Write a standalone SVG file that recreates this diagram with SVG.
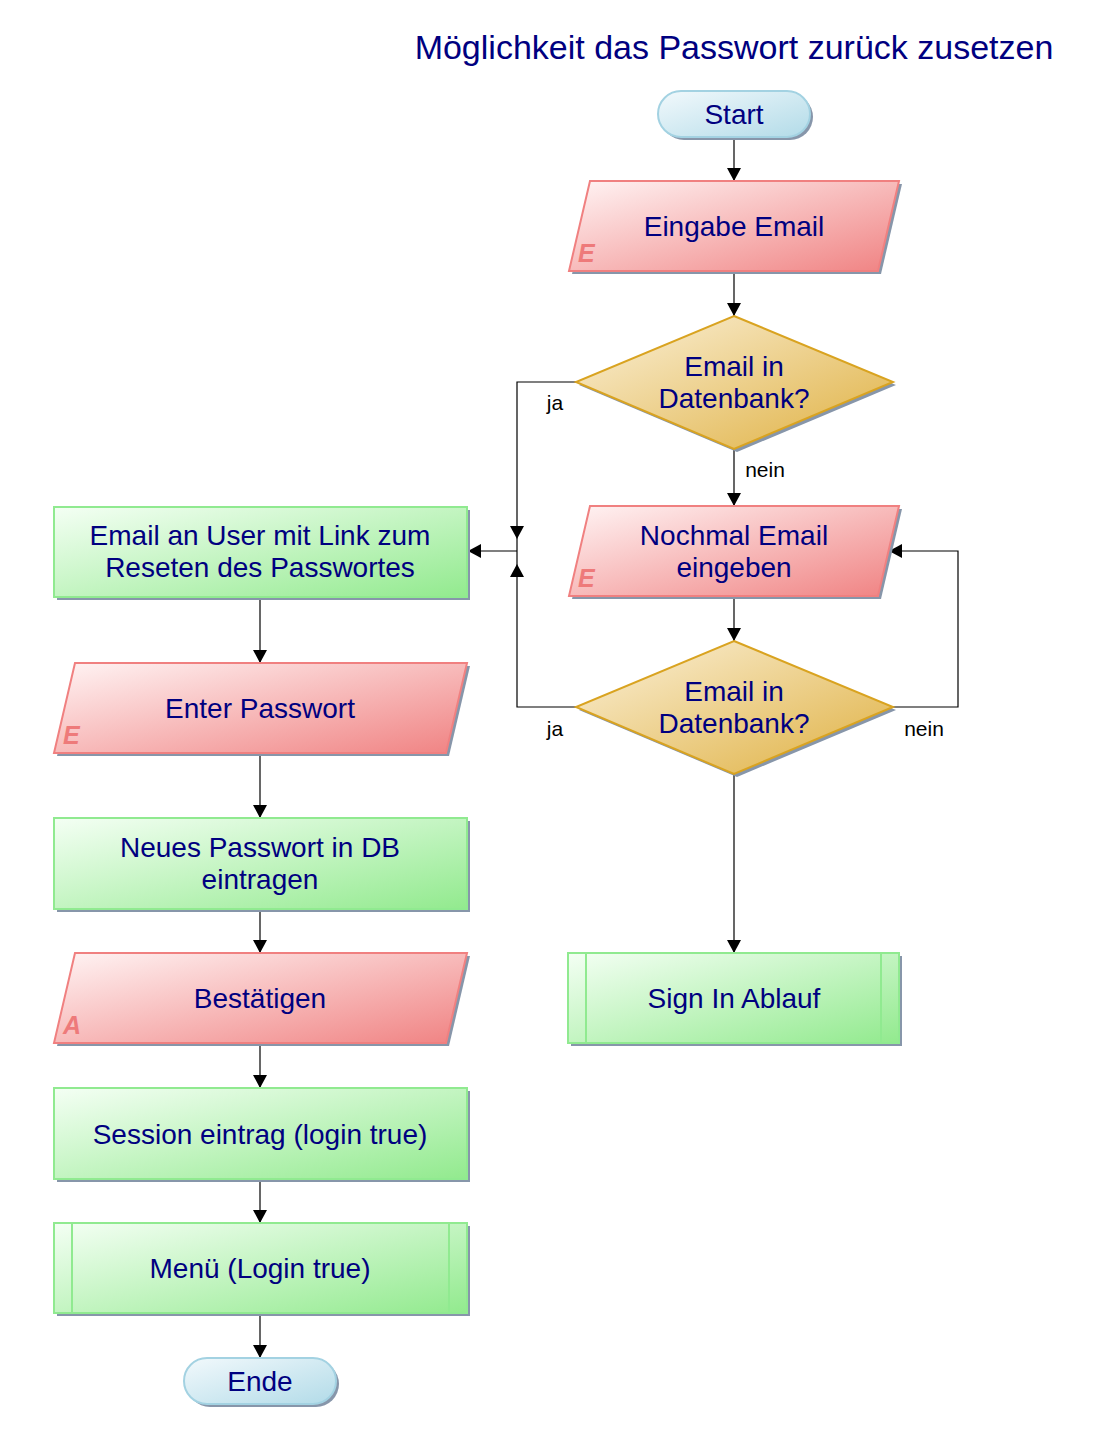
<svg xmlns="http://www.w3.org/2000/svg" width="1098" height="1447" viewBox="0 0 1098 1447">
<defs>
<linearGradient id="gRed" x1="0" y1="0" x2="1" y2="1">
<stop offset="0" stop-color="#fff4f4"/><stop offset="1" stop-color="#f08282"/>
</linearGradient>
<linearGradient id="gGreen" x1="0" y1="0" x2="1" y2="1">
<stop offset="0" stop-color="#f4fff4"/><stop offset="1" stop-color="#92ea8e"/>
</linearGradient>
<linearGradient id="gGold" x1="0" y1="0" x2="1" y2="1">
<stop offset="0" stop-color="#fbf1da"/><stop offset="1" stop-color="#dfb040"/>
</linearGradient>
<linearGradient id="gBlue" x1="0" y1="0" x2="1" y2="1">
<stop offset="0" stop-color="#f2f9fc"/><stop offset="1" stop-color="#b2dbe8"/>
</linearGradient>
<marker id="arr" markerUnits="userSpaceOnUse" markerWidth="14" markerHeight="14" refX="13" refY="7" orient="auto">
<path d="M0,0 L13,7 L0,14 z" fill="#000"/>
</marker>
<style>
.sh{fill:#8796aa}
.red{fill:url(#gRed);stroke:#f08080;stroke-width:2}
.grn{fill:url(#gGreen);stroke:#90ea90;stroke-width:2}
.gold{fill:url(#gGold);stroke:#d9a320;stroke-width:2}
.blue{fill:url(#gBlue);stroke:#a3d2e2;stroke-width:2}
.sub{stroke:#90ea90;stroke-width:2;fill:none}
.t{font-family:"Liberation Sans",Arial,sans-serif;font-size:28px;fill:#000080;text-anchor:middle}
.mk{font-family:"Liberation Sans",Arial,sans-serif;font-size:25px;font-weight:bold;font-style:italic;fill:#ee7a7a}
.lb{font-family:"Liberation Sans",Arial,sans-serif;font-size:21px;fill:#000;text-anchor:middle}
.c{fill:none;stroke:#000;stroke-width:1.2}
</style>
</defs>
<rect width="1098" height="1447" fill="#fff"/>
<text x="734" y="59" style="font-family:'Liberation Sans',Arial,sans-serif;font-size:34px;fill:#000080;text-anchor:middle">Möglichkeit das Passwort zurück zusetzen</text>

<g id="connectors">
<path class="c" d="M734,137 V181" marker-end="url(#arr)"/>
<path class="c" d="M734,271 V316" marker-end="url(#arr)"/>
<path class="c" d="M734,449 V506" marker-end="url(#arr)"/>
<path class="c" d="M734,596 V641" marker-end="url(#arr)"/>
<path class="c" d="M734,774 V953" marker-end="url(#arr)"/>
<path class="c" d="M893,707 H958 V551 H889" marker-end="url(#arr)"/>
<path class="c" d="M576,382 H517 V539" marker-end="url(#arr)"/>
<path class="c" d="M576,707 H517 V564" marker-end="url(#arr)"/>
<path class="c" d="M517,539 V564"/>
<path class="c" d="M517,551 H468" marker-end="url(#arr)"/>
<path class="c" d="M260,597 V663" marker-end="url(#arr)"/>
<path class="c" d="M260,753 V818" marker-end="url(#arr)"/>
<path class="c" d="M260,909 V953" marker-end="url(#arr)"/>
<path class="c" d="M260,1043 V1088" marker-end="url(#arr)"/>
<path class="c" d="M260,1179 V1223" marker-end="url(#arr)"/>
<path class="c" d="M260,1313 V1358" marker-end="url(#arr)"/>
<text class="lb" x="555" y="410">ja</text>
<text class="lb" x="765" y="477">nein</text>
<text class="lb" x="555" y="736">ja</text>
<text class="lb" x="924" y="736">nein</text>
</g>

<g id="start">
<rect class="sh" x="661" y="94" width="152" height="46" rx="23"/>
<rect class="blue" x="658" y="91" width="152" height="46" rx="23"/>
<text class="t" x="734" y="124">Start</text>
</g>

<g id="eingabe-email">
<polygon class="sh" points="593,184 902,184 881,274 572,274"/>
<polygon class="red" points="590,181 899,181 878,271 569,271"/>
<text class="mk" x="578" y="262">E</text>
<text class="t" x="734" y="236">Eingabe Email</text>
</g>

<g id="decision1">
<polygon class="sh" points="737,319 896,385 737,452 579,385"/>
<polygon class="gold" points="734,316 893,382 734,449 576,382"/>
<text class="t" x="734" y="376">Email in</text>
<text class="t" x="734" y="408">Datenbank?</text>
</g>

<g id="nochmal">
<polygon class="sh" points="593,509 902,509 881,599 572,599"/>
<polygon class="red" points="590,506 899,506 878,596 569,596"/>
<text class="mk" x="578" y="587">E</text>
<text class="t" x="734" y="545">Nochmal Email</text>
<text class="t" x="734" y="577">eingeben</text>
</g>

<g id="decision2">
<polygon class="sh" points="737,644 896,710 737,777 579,710"/>
<polygon class="gold" points="734,641 893,707 734,774 576,707"/>
<text class="t" x="734" y="701">Email in</text>
<text class="t" x="734" y="733">Datenbank?</text>
</g>

<g id="sign-in">
<rect class="sh" x="571" y="956" width="331" height="90"/>
<rect class="grn" x="568" y="953" width="331" height="90"/>
<line class="sub" x1="586" y1="953" x2="586" y2="1043"/>
<line class="sub" x1="881" y1="953" x2="881" y2="1043"/>
<text class="t" x="734" y="1008">Sign In Ablauf</text>
</g>

<g id="email-user">
<rect class="sh" x="57" y="510" width="413" height="90"/>
<rect class="grn" x="54" y="507" width="413" height="90"/>
<text class="t" x="260" y="545">Email an User mit Link zum</text>
<text class="t" x="260" y="577">Reseten des Passwortes</text>
</g>

<g id="enter-passwort">
<polygon class="sh" points="78,666 470,666 449,756 57,756"/>
<polygon class="red" points="75,663 467,663 446,753 54,753"/>
<text class="mk" x="63" y="744">E</text>
<text class="t" x="260" y="718">Enter Passwort</text>
</g>

<g id="neues-passwort">
<rect class="sh" x="57" y="821" width="413" height="91"/>
<rect class="grn" x="54" y="818" width="413" height="91"/>
<text class="t" x="260" y="857">Neues Passwort in DB</text>
<text class="t" x="260" y="889">eintragen</text>
</g>

<g id="bestaetigen">
<polygon class="sh" points="78,956 470,956 449,1046 57,1046"/>
<polygon class="red" points="75,953 467,953 446,1043 54,1043"/>
<text class="mk" x="63" y="1034">A</text>
<text class="t" x="260" y="1008">Bestätigen</text>
</g>

<g id="session">
<rect class="sh" x="57" y="1091" width="413" height="91"/>
<rect class="grn" x="54" y="1088" width="413" height="91"/>
<text class="t" x="260" y="1144">Session eintrag (login true)</text>
</g>

<g id="menu">
<rect class="sh" x="57" y="1226" width="413" height="90"/>
<rect class="grn" x="54" y="1223" width="413" height="90"/>
<line class="sub" x1="72" y1="1223" x2="72" y2="1313"/>
<line class="sub" x1="449" y1="1223" x2="449" y2="1313"/>
<text class="t" x="260" y="1278">Menü (Login true)</text>
</g>

<g id="ende">
<rect class="sh" x="187" y="1361" width="152" height="46" rx="23"/>
<rect class="blue" x="184" y="1358" width="152" height="46" rx="23"/>
<text class="t" x="260" y="1391">Ende</text>
</g>
</svg>
